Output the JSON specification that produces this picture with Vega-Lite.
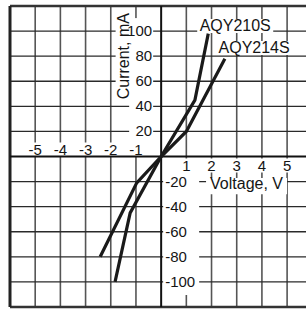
{
  "$schema": "https://vega.github.io/schema/vega-lite/v6.json",
  "width": 296,
  "height": 301,
  "padding": {"left": 10, "top": 6, "right": 0, "bottom": 2},
  "autosize": {"type": "none"},
  "config": {"view": {"stroke": null}, "font": "Liberation Sans", "text": {"font": "Liberation Sans", "fontSize": 15, "color": "#151515"}},
  "datasets": {
    "ypos": [{"label": "100", "x": 0, "y": 100}, {"label": "80", "x": 0, "y": 80}, {"label": "60", "x": 0, "y": 60}, {"label": "40", "x": 0, "y": 40}, {"label": "20", "x": 0, "y": 20}],
    "yneg": [{"label": "-20", "x": 0, "y": -20}, {"label": "-40", "x": 0, "y": -40}, {"label": "-60", "x": 0, "y": -60}, {"label": "-80", "x": 0, "y": -80}, {"label": "-100", "x": 0, "y": -100}],
    "xneg": [{"label": "-5", "x": -5, "y": 0}, {"label": "-4", "x": -4, "y": 0}, {"label": "-3", "x": -3, "y": 0}, {"label": "-2", "x": -2, "y": 0}, {"label": "-1", "x": -1, "y": 0}],
    "xpos": [{"label": "1", "x": 1, "y": 0}, {"label": "2", "x": 2, "y": 0}, {"label": "3", "x": 3, "y": 0}, {"label": "4", "x": 4, "y": 0}, {"label": "5", "x": 5, "y": 0}],
    "series": [{"label": "AQY210S", "x": 2.94, "y": 104}, {"label": "AQY214S", "x": 3.69, "y": 86.5}],
    "xtitle": [{"label": "Voltage, V", "x": 3.39, "y": -22}],
    "ytitle": [{"label": "Current, mA", "x": -1.49, "y": 80}]
  },
  "encoding": {
    "x": {"field": "x", "type": "quantitative", "scale": {"domain": [-6, 5.75], "nice": false, "zero": false}, "axis": null},
    "y": {"field": "y", "type": "quantitative", "scale": {"domain": [-120, 120], "nice": false, "zero": false}, "axis": null}
  },
  "layer": [
    {
      "data": {"values": [{"x": -5}, {"x": -4}, {"x": -3}, {"x": -2}, {"x": -1}, {"x": 1}, {"x": 2}, {"x": 3}, {"x": 4}, {"x": 5}]},
      "mark": {"type": "rule", "color": "#555", "strokeWidth": 1.6},
      "encoding": {"x": {"field": "x", "type": "quantitative", "scale": {"domain": [-6, 5.75], "nice": false, "zero": false}, "axis": null}, "y": null}
    },
    {
      "data": {"values": [{"y": -100}, {"y": -80}, {"y": -60}, {"y": -40}, {"y": -20}, {"y": 20}, {"y": 40}, {"y": 60}, {"y": 80}, {"y": 100}]},
      "mark": {"type": "rule", "color": "#2a2a2a", "strokeWidth": 1.4},
      "encoding": {"y": {"field": "y", "type": "quantitative", "scale": {"domain": [-120, 120], "nice": false, "zero": false}, "axis": null}, "x": null}
    },
    {
      "data": {"values": [{"y": -120}, {"y": 120}]},
      "mark": {"type": "rule", "color": "#333", "strokeWidth": 2.5},
      "encoding": {"y": {"field": "y", "type": "quantitative", "scale": {"domain": [-120, 120], "nice": false, "zero": false}, "axis": null}, "x": null}
    },
    {
      "data": {"values": [{"x": -6}]},
      "mark": {"type": "rule", "color": "#222", "strokeWidth": 3},
      "encoding": {"x": {"field": "x", "type": "quantitative", "scale": {"domain": [-6, 5.75], "nice": false, "zero": false}, "axis": null}, "y": null}
    },
    {"data": {"name": "ypos"}, "mark": {"type": "point", "filled": true, "color": "white", "opacity": 1, "shape": "M-0.923,-1H0.923V1H-0.923Z", "size": 676, "xOffset": -20}},
    {"data": {"name": "yneg"}, "mark": {"type": "point", "filled": true, "color": "white", "opacity": 1, "shape": "M-1,-0.722H1V0.722H-1Z", "size": 1296, "xOffset": 20}},
    {"data": {"name": "xneg"}, "mark": {"type": "point", "filled": true, "color": "white", "opacity": 1, "shape": "M-1,-0.778H1V0.778H-1Z", "size": 324, "yOffset": -7}},
    {"data": {"name": "xpos"}, "mark": {"type": "point", "filled": true, "color": "white", "opacity": 1, "shape": "M-0.857,-1H0.857V1H-0.857Z", "size": 196, "yOffset": 9}},
    {"data": {"name": "series"}, "mark": {"type": "point", "filled": true, "color": "white", "opacity": 1, "shape": "M-1,-0.184H1V0.184H-1Z", "size": 5776}},
    {"data": {"name": "xtitle"}, "mark": {"type": "point", "filled": true, "color": "white", "opacity": 1, "shape": "M-1,-0.2H1V0.2H-1Z", "size": 6561, "yOffset": 2}},
    {"data": {"name": "ytitle"}, "mark": {"type": "point", "filled": true, "color": "white", "opacity": 1, "shape": "M-0.186,-1H0.186V1H-0.186Z", "size": 7396}},
    {
      "data": {"values": [{"y": 0}]},
      "mark": {"type": "rule", "color": "#111", "strokeWidth": 2},
      "encoding": {"y": {"field": "y", "type": "quantitative", "scale": {"domain": [-120, 120], "nice": false, "zero": false}, "axis": null}, "x": null}
    },
    {
      "data": {"values": [{"x": 0}]},
      "mark": {"type": "rule", "color": "#111", "strokeWidth": 2},
      "encoding": {"x": {"field": "x", "type": "quantitative", "scale": {"domain": [-6, 5.75], "nice": false, "zero": false}, "axis": null}, "y": null}
    },
    {
      "data": {"values": [
        {"series": "AQY210S", "voltage": -1.83, "current": -100},
        {"series": "AQY210S", "voltage": -1.23, "current": -45},
        {"series": "AQY210S", "voltage": 0, "current": 0},
        {"series": "AQY210S", "voltage": 1.34, "current": 45},
        {"series": "AQY210S", "voltage": 1.87, "current": 98},
        {"series": "AQY214S", "voltage": -2.42, "current": -80},
        {"series": "AQY214S", "voltage": -0.97, "current": -21},
        {"series": "AQY214S", "voltage": 0, "current": 0},
        {"series": "AQY214S", "voltage": 1.0, "current": 20},
        {"series": "AQY214S", "voltage": 2.53, "current": 78}
      ]},
      "mark": {"type": "line", "strokeWidth": 3.2, "strokeCap": "butt"},
      "encoding": {
        "x": {"field": "voltage", "type": "quantitative", "scale": {"domain": [-6, 5.75], "nice": false, "zero": false}, "axis": null},
        "y": {"field": "current", "type": "quantitative", "scale": {"domain": [-120, 120], "nice": false, "zero": false}, "axis": null},
        "detail": {"field": "series"},
        "color": {"value": "#1a1a1a"}
      }
    },
    {"data": {"name": "ypos"}, "mark": {"type": "text", "align": "right", "baseline": "middle", "dx": -9}, "encoding": {"text": {"field": "label"}}},
    {"data": {"name": "yneg"}, "mark": {"type": "text", "align": "left", "baseline": "middle", "dx": 4}, "encoding": {"text": {"field": "label"}}},
    {"data": {"name": "xneg"}, "mark": {"type": "text", "align": "center", "baseline": "alphabetic", "dy": -2}, "encoding": {"text": {"field": "label"}}},
    {"data": {"name": "xpos"}, "mark": {"type": "text", "align": "center", "baseline": "top", "dy": 2}, "encoding": {"text": {"field": "label"}}},
    {"data": {"name": "series"}, "mark": {"type": "text", "align": "center", "baseline": "middle", "fontSize": 16}, "encoding": {"text": {"field": "label"}}},
    {"data": {"name": "xtitle"}, "mark": {"type": "text", "align": "center", "baseline": "middle", "fontSize": 16}, "encoding": {"text": {"field": "label"}}},
    {"data": {"name": "ytitle"}, "mark": {"type": "text", "align": "center", "baseline": "middle", "angle": 270, "fontSize": 16}, "encoding": {"text": {"field": "label"}}}
  ]
}
